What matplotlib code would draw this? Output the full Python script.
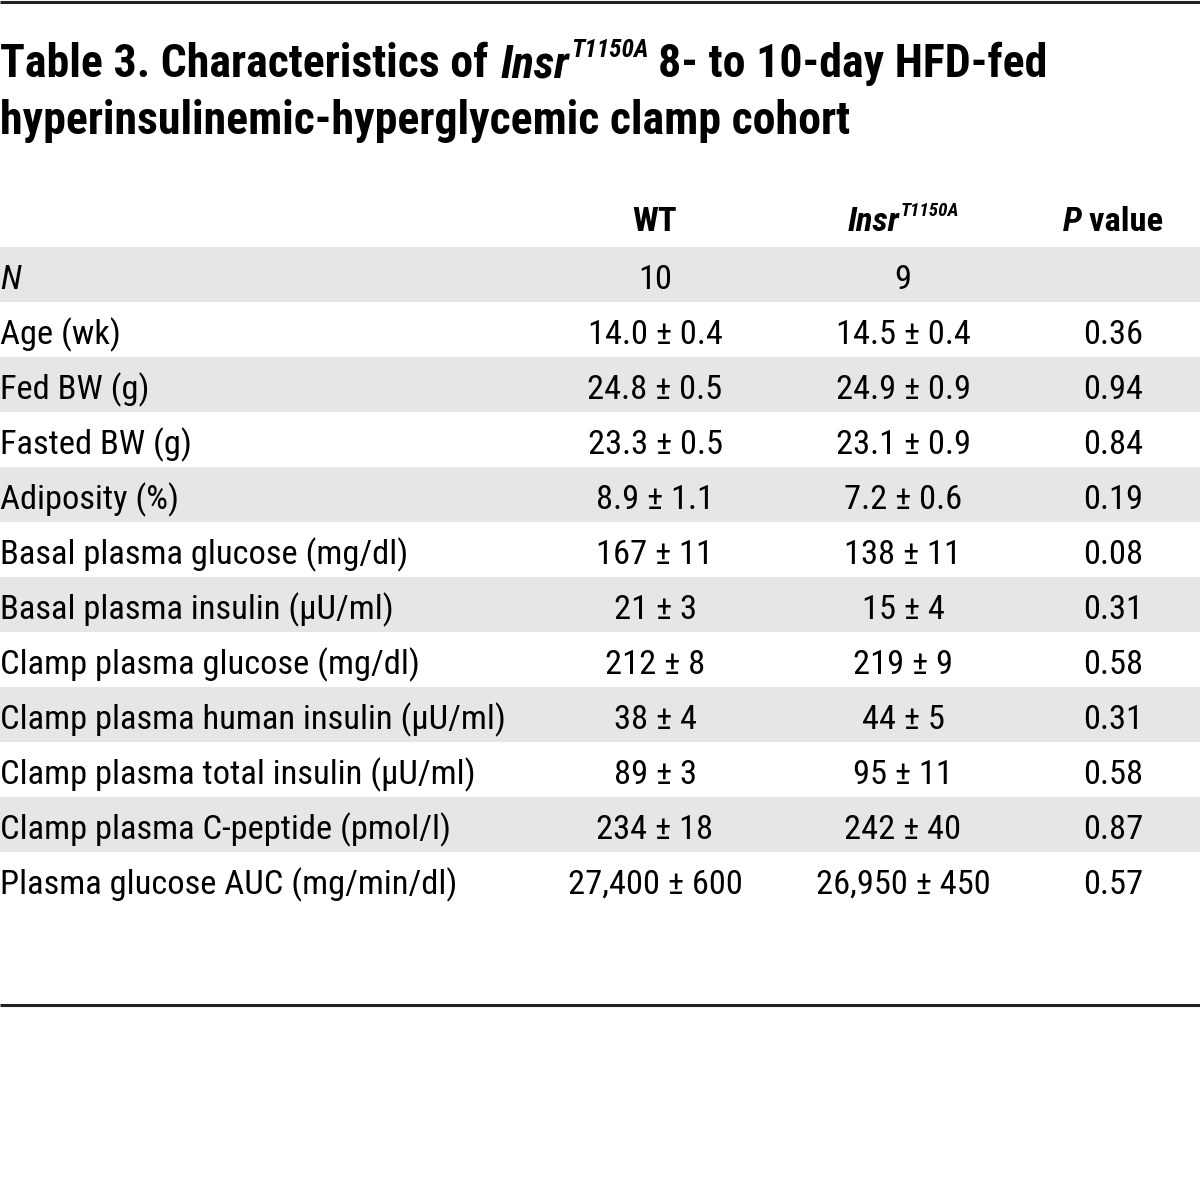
import matplotlib
matplotlib.use('Agg')
import matplotlib.pyplot as plt
from matplotlib import font_manager
from matplotlib.patches import Rectangle

# Datos de la tabla
row_labels = ["N", "Age (wk)", "Fed BW (g)", "Fasted BW (g)", "Adiposity (%)",
              "Basal plasma glucose (mg/dl)", "Basal plasma insulin (μU/ml)",
              "Clamp plasma glucose (mg/dl)", "Clamp plasma human insulin (μU/ml)",
              "Clamp plasma total insulin (μU/ml)", "Clamp plasma C-peptide (pmol/l)",
              "Plasma glucose AUC (mg/min/dl)"]
wt_values = ["10", "14.0 ± 0.4", "24.8 ± 0.5", "23.3 ± 0.5", "8.9 ± 1.1", "167 ± 11",
             "21 ± 3", "212 ± 8", "38 ± 4", "89 ± 3", "234 ± 18", "27,400 ± 600"]
mut_values = ["9", "14.5 ± 0.4", "24.9 ± 0.9", "23.1 ± 0.9", "7.2 ± 0.6", "138 ± 11",
              "15 ± 4", "219 ± 9", "44 ± 5", "95 ± 11", "242 ± 40", "26,950 ± 450"]
p_values = ["", "0.36", "0.94", "0.84", "0.19", "0.08", "0.31", "0.58", "0.31",
            "0.58", "0.87", "0.57"]
col_heads = ["WT", "Insr", "P value"]
title_1 = "Table 3. Characteristics of "
title_2 = "8- to 10-day HFD-fed"
title_3 = "hyperinsulinemic-hyperglycemic clamp cohort"


def pick_font():
    # buscar una fuente estrecha (condensed / narrow) si la hay
    entries = font_manager.fontManager.ttflist
    prefer = ["Liberation Sans Narrow", "Roboto Condensed", "Open Sans Condensed",
              "Noto Sans Condensed", "Noto Sans", "DejaVu Sans"]
    for name in prefer:
        for f in entries:
            if f.name == name and ('Narrow' in name or 'Condensed' in name):
                return name, 'normal'
            if f.name == name and str(f.stretch) in ('condensed', 'semi-condensed',
                                                     'extra-condensed'):
                return name, f.stretch
    return "Liberation Sans", 'normal'


family, stretch = pick_font()
plt.rcParams['font.family'] = [family, 'DejaVu Sans']
plt.rcParams['font.stretch'] = stretch

W, H = 1200, 1199
fig = plt.figure(figsize=(W / 100, H / 100), dpi=100)
ax = fig.add_axes([0, 0, 1, 1])
ax.set_xlim(0, W)
ax.set_ylim(H, 0)
ax.axis('off')

fig.canvas.draw()
renderer = fig.canvas.get_renderer()


def width_of(s, size, **kw):
    t = ax.text(0, 0, s, fontsize=size, **kw)
    w = t.get_window_extent(renderer).width
    t.remove()
    return w


# tamaños ajustados al ancho del original
body_fs = min(27, 27 * 505 / width_of(row_labels[8], 27))
title_fs = min(36, 36 * 852 / width_of(title_3, 36, fontweight='bold'))

# lineas superior e inferior
ax.plot([0, W], [2, 2], color='#222222', lw=2.2, solid_capstyle='butt')
ax.plot([0, W], [1005, 1005], color='#222222', lw=2.2, solid_capstyle='butt')


def text_with_sup(x, y, base, sup, size, weight):
    # texto en cursiva con superindice, devuelve x final
    ax.text(x, y, base, fontsize=size, fontstyle='italic', fontweight=weight,
            va='baseline', ha='left')
    x2 = x + width_of(base, size, fontstyle='italic', fontweight=weight) + 1
    ax.text(x2, y - size * 0.62, sup, fontsize=size * 0.55, fontstyle='italic',
            fontweight=weight, va='baseline', ha='left')
    return x2 + width_of(sup, size * 0.55, fontstyle='italic', fontweight=weight)


# titulo
ax.text(0, 77, title_1, fontsize=title_fs, fontweight='bold', va='baseline')
xe = text_with_sup(width_of(title_1, title_fs, fontweight='bold') + 2, 77,
                   "Insr", "T1150A", title_fs, 'bold')
ax.text(xe + title_fs * 0.3, 77, title_2, fontsize=title_fs, fontweight='bold',
        va='baseline')
ax.text(0, 134, title_3, fontsize=title_fs, fontweight='bold', va='baseline')

# cabecera de columnas
col_x = [655, 903, 1113]
head_y = 231
ax.text(col_x[0], head_y, col_heads[0], fontsize=body_fs, fontweight='bold',
        ha='center', va='baseline')
w1 = width_of("Insr", body_fs, fontstyle='italic', fontweight='bold')
w2 = width_of("T1150A", body_fs * 0.55, fontstyle='italic', fontweight='bold')
text_with_sup(col_x[1] - (w1 + w2) / 2, head_y, "Insr", "T1150A", body_fs, 'bold')
wp = width_of("P", body_fs, fontstyle='italic', fontweight='bold')
wv = width_of(" value", body_fs, fontweight='bold')
x0 = col_x[2] - (wp + wv) / 2
ax.text(x0, head_y, "P", fontsize=body_fs, fontstyle='italic', fontweight='bold',
        va='baseline')
ax.text(x0 + wp, head_y, " value", fontsize=body_fs, fontweight='bold', va='baseline')

# filas
row_top = 247
row_h = 55
for i, lab in enumerate(row_labels):
    top = row_top + i * row_h
    if i % 2 == 0:
        ax.add_patch(Rectangle((0, top), W, row_h, color='#e6e6e6', lw=0, zorder=0))
    yb = top + 42
    ax.text(0, yb, lab, fontsize=body_fs, va='baseline',
            fontstyle='italic' if lab == "N" else 'normal')
    for x, v in zip(col_x, [wt_values[i], mut_values[i], p_values[i]]):
        ax.text(x, yb, v, fontsize=body_fs, ha='center', va='baseline')

fig.savefig('out.png', dpi=100)
